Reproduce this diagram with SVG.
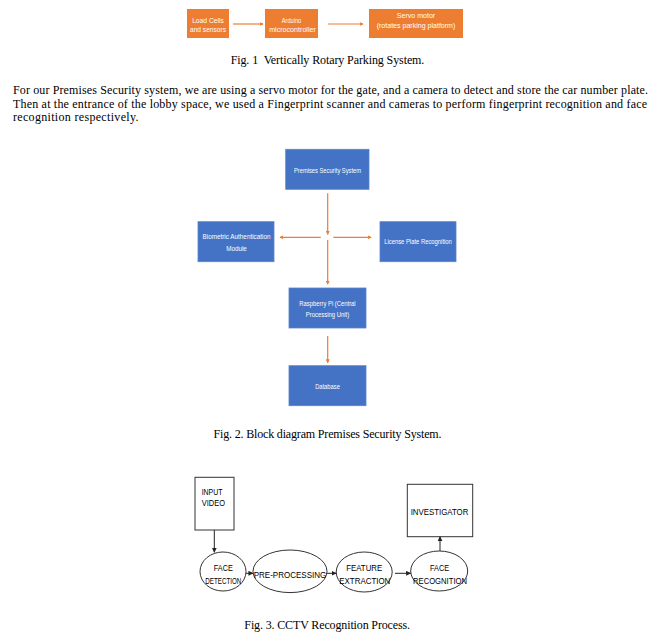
<svg xmlns="http://www.w3.org/2000/svg" width="669" height="643" viewBox="0 0 669 643">
<defs>
<style>
.ob{fill:#ED7D31}
.bb{fill:#4472C4;stroke:#5B84CC;stroke-width:0.8}
.wt{fill:#ffffff;font-family:"Liberation Sans","Open Sans",sans-serif;font-size:7.4px;text-anchor:middle}
.cap{fill:#000;font-family:"Liberation Serif","Times New Roman",serif;font-size:12px;text-anchor:middle}
.para{fill:#000;font-family:"Liberation Serif","Times New Roman",serif;font-size:12px}
.or{stroke:#ED7D31;stroke-width:1.2;fill:none}
.bk{stroke:#222;stroke-width:1;fill:none}
.nd{fill:#fff;stroke:#333;stroke-width:1}
.bt{fill:#000;font-family:"Liberation Sans",Arial,sans-serif;font-size:9.5px}
</style>
<marker id="ao" viewBox="0 0 6 6" refX="5" refY="3" markerWidth="4" markerHeight="4" orient="auto" markerUnits="userSpaceOnUse"><path d="M0,0 L6,3 L0,6 z" fill="#ED7D31"/></marker>
<marker id="ab" viewBox="0 0 6 6" refX="5.5" refY="3" markerWidth="5" markerHeight="5" orient="auto" markerUnits="userSpaceOnUse"><path d="M0,0 L6,3 L0,6 z" fill="#222"/></marker>
</defs>
<rect width="669" height="643" fill="#ffffff"/>

<!-- Fig 1 -->
<g id="fig1-load"><rect class="ob" x="187" y="9" width="42" height="29"/>
<text class="wt" x="208" y="22.5" textLength="31.7" lengthAdjust="spacingAndGlyphs">Load Cells</text>
<text class="wt" x="208" y="31.5" textLength="36" lengthAdjust="spacingAndGlyphs">and sensors</text></g>
<g id="fig1-arduino"><rect class="ob" x="265" y="9" width="53" height="29"/>
<text class="wt" x="291.5" y="22.5" textLength="19.3" lengthAdjust="spacingAndGlyphs">Arduino</text>
<text class="wt" x="292.5" y="31.5" textLength="46.7" lengthAdjust="spacingAndGlyphs">microcontroller</text></g>
<g id="fig1-servo"><rect class="ob" x="369" y="9" width="94" height="29"/>
<text class="wt" x="416" y="18" textLength="38.3" lengthAdjust="spacingAndGlyphs">Servo motor</text>
<text class="wt" x="416" y="27.5" textLength="78.7" lengthAdjust="spacingAndGlyphs">(rotates parking platform)</text></g>
<g id="fig1-connectors">
<line class="or" x1="233" y1="24" x2="263" y2="24" marker-end="url(#ao)"/>
<line class="or" x1="328" y1="24" x2="363" y2="24" marker-end="url(#ao)"/>
</g>
<text class="cap" x="327.5" y="64" textLength="193.7" lengthAdjust="spacing" xml:space="preserve">Fig. 1  Vertically Rotary Parking System.</text>

<!-- Paragraph -->
<text class="para" x="13" y="94" textLength="635" lengthAdjust="spacing">For our Premises Security system, we are using a servo motor for the gate, and a camera to detect and store the car number plate.</text>
<text class="para" x="13" y="107.5" textLength="634" lengthAdjust="spacing">Then at the entrance of the lobby space, we used a Fingerprint scanner and cameras to perform fingerprint recognition and face</text>
<text class="para" x="13" y="121" textLength="125.5" lengthAdjust="spacing">recognition respectively.</text>

<!-- Fig 2 -->
<g id="fig2-premises"><rect class="bb" x="285.7" y="149.3" width="83.3" height="40"/>
<text class="wt" x="327.5" y="172.5" textLength="67" lengthAdjust="spacingAndGlyphs">Premises Security System</text></g>
<g id="fig2-biometric"><rect class="bb" x="198" y="221.7" width="76" height="40"/>
<text class="wt" x="236.5" y="239" textLength="68" lengthAdjust="spacingAndGlyphs">Biometric Authentication</text>
<text class="wt" x="236.5" y="250.5" textLength="20.7" lengthAdjust="spacingAndGlyphs">Module</text></g>
<g id="fig2-license"><rect class="bb" x="380" y="221.7" width="76" height="40"/>
<text class="wt" x="418" y="244" textLength="67.7" lengthAdjust="spacingAndGlyphs">License Plate Recognition</text></g>
<g id="fig2-raspberry"><rect class="bb" x="289" y="288" width="77" height="40"/>
<text class="wt" x="327.5" y="305.5" textLength="56.3" lengthAdjust="spacingAndGlyphs">Raspberry Pi (Central</text>
<text class="wt" x="327.5" y="317" textLength="43.3" lengthAdjust="spacingAndGlyphs">Processing Unit)</text></g>
<g id="fig2-database"><rect class="bb" x="289" y="365.7" width="77" height="40"/>
<text class="wt" x="327.5" y="389" textLength="24.7" lengthAdjust="spacingAndGlyphs">Database</text></g>
<g id="fig2-connectors">
<line class="or" x1="327.7" y1="193.3" x2="327.7" y2="234.3" marker-end="url(#ao)"/>
<line class="or" x1="320.7" y1="237.3" x2="280" y2="237.3" marker-end="url(#ao)"/>
<line class="or" x1="333.3" y1="237.3" x2="371" y2="237.3" marker-end="url(#ao)"/>
<line class="or" x1="327.7" y1="240" x2="327.7" y2="284" marker-end="url(#ao)"/>
<line class="or" x1="327.7" y1="336" x2="327.7" y2="362.7" marker-end="url(#ao)"/>
</g>
<text class="cap" x="327.5" y="437.5" textLength="228" lengthAdjust="spacing">Fig. 2. Block diagram Premises Security System.</text>

<!-- Fig 3 -->
<g id="fig3-input"><rect class="nd" x="195" y="477.3" width="39" height="52.7"/>
<text class="bt" x="201.7" y="494.5" textLength="20.7" lengthAdjust="spacingAndGlyphs">INPUT</text>
<text class="bt" x="201.7" y="506" textLength="23.3" lengthAdjust="spacingAndGlyphs">VIDEO</text></g>
<g id="fig3-investigator"><rect class="nd" x="407.3" y="484.3" width="65.4" height="52.4"/>
<text class="bt" x="439.5" y="514.5" text-anchor="middle" textLength="57.7" lengthAdjust="spacingAndGlyphs">INVESTIGATOR</text></g>
<g id="fig3-facedet"><ellipse class="nd" cx="223" cy="571.5" rx="23" ry="19.5"/>
<text class="bt" x="223.3" y="571" text-anchor="middle" textLength="19" lengthAdjust="spacingAndGlyphs">FACE</text>
<text class="bt" x="223.3" y="583.5" text-anchor="middle" textLength="36" lengthAdjust="spacingAndGlyphs">DETECTION</text></g>
<g id="fig3-preproc"><ellipse class="nd" cx="290" cy="571.3" rx="37" ry="21.3"/>
<text class="bt" x="290" y="577.5" text-anchor="middle" textLength="72.7" lengthAdjust="spacingAndGlyphs">PRE-PROCESSING</text></g>
<g id="fig3-feature"><ellipse class="nd" cx="364.2" cy="572" rx="28" ry="20"/>
<text class="bt" x="364.2" y="571" text-anchor="middle" textLength="36" lengthAdjust="spacingAndGlyphs">FEATURE</text>
<text class="bt" x="364.8" y="583.5" text-anchor="middle" textLength="51" lengthAdjust="spacingAndGlyphs">EXTRACTION</text></g>
<g id="fig3-facerec"><ellipse class="nd" cx="439.2" cy="571" rx="28.5" ry="20"/>
<text class="bt" x="439.5" y="571" text-anchor="middle" textLength="19" lengthAdjust="spacingAndGlyphs">FACE</text>
<text class="bt" x="440" y="583.5" text-anchor="middle" textLength="54" lengthAdjust="spacingAndGlyphs">RECOGNITION</text></g>
<g id="fig3-connectors">
<line class="bk" x1="214.3" y1="530" x2="214.3" y2="552.3" marker-end="url(#ab)"/>
<line class="bk" x1="246" y1="573.3" x2="253" y2="573.3" marker-end="url(#ab)"/>
<line class="bk" x1="327" y1="573.3" x2="336.2" y2="573.3" marker-end="url(#ab)"/>
<line class="bk" x1="395" y1="573.3" x2="410.7" y2="573.3" marker-end="url(#ab)"/>
<line class="bk" x1="440" y1="551" x2="440" y2="536.7" marker-end="url(#ab)"/>
</g>
<text class="cap" x="327.2" y="629" textLength="165.7" lengthAdjust="spacing">Fig. 3. CCTV Recognition Process.</text>
</svg>
